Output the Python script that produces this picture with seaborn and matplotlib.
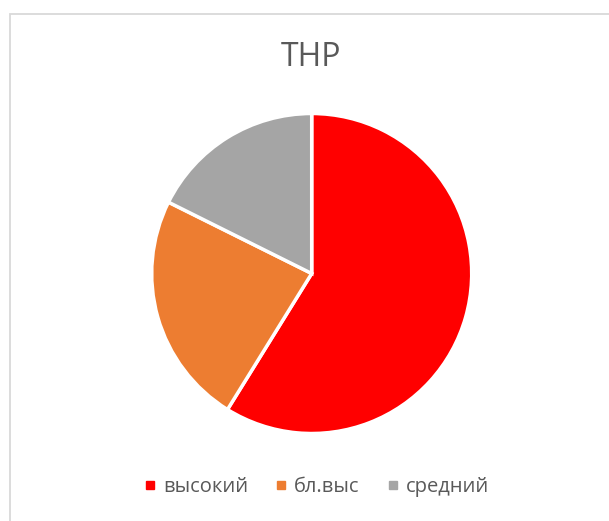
import matplotlib
matplotlib.use("Agg")
import matplotlib.pyplot as plt
from matplotlib.lines import Line2D
from matplotlib.patches import Rectangle
import seaborn as sns

categories = ["высокий", "бл.выс", "средний"]
values = [10, 4, 3]
colors = ["#FF0000", "#ED7D31", "#A5A5A5"]
title = "ТНР"

sns.set_theme(style="white")
plt.rcParams['font.family'] = ['Open Sans', 'DejaVu Sans']

W, H = 609, 521
fig = plt.figure(figsize=(W / 100, H / 100), dpi=100)

# chart frame
fig.patches.append(Rectangle((9.5 / W, -0.1), 1.2, (H - 13.5) / H + 0.1,
                             transform=fig.transFigure, fill=False,
                             edgecolor="#D9D9D9", linewidth=1.3))

cx, cy, r = 311.7, 273.5, 160
ax = fig.add_axes([(cx - r) / W, (H - cy - r) / H, 2 * r / W, 2 * r / H])
ax.pie(values, colors=colors, startangle=90, counterclock=False,
       wedgeprops=dict(edgecolor="white", linewidth=2.5))
ax.set_xlim(-1.0, 1.0)
ax.set_ylim(-1.0, 1.0)
ax.set_aspect("equal")
ax.axis("off")

fig.text(311 / W, (H - 57) / H, title, ha="center", va="center",
         fontsize=23, color="#595959")

handles = [Line2D([0], [0], marker="s", linestyle="none", markersize=6,
                  markerfacecolor=c, markeredgecolor=c) for c in colors]
leg = fig.legend(handles, categories, loc="center", ncol=3,
                 bbox_to_anchor=(317 / W, (H - 487) / H), frameon=False,
                 fontsize=14.5, handletextpad=0.4, columnspacing=1.4,
                 handlelength=0.5)
for t in leg.get_texts():
    t.set_color("#595959")

fig.savefig("out.png", dpi=100, facecolor="white")
